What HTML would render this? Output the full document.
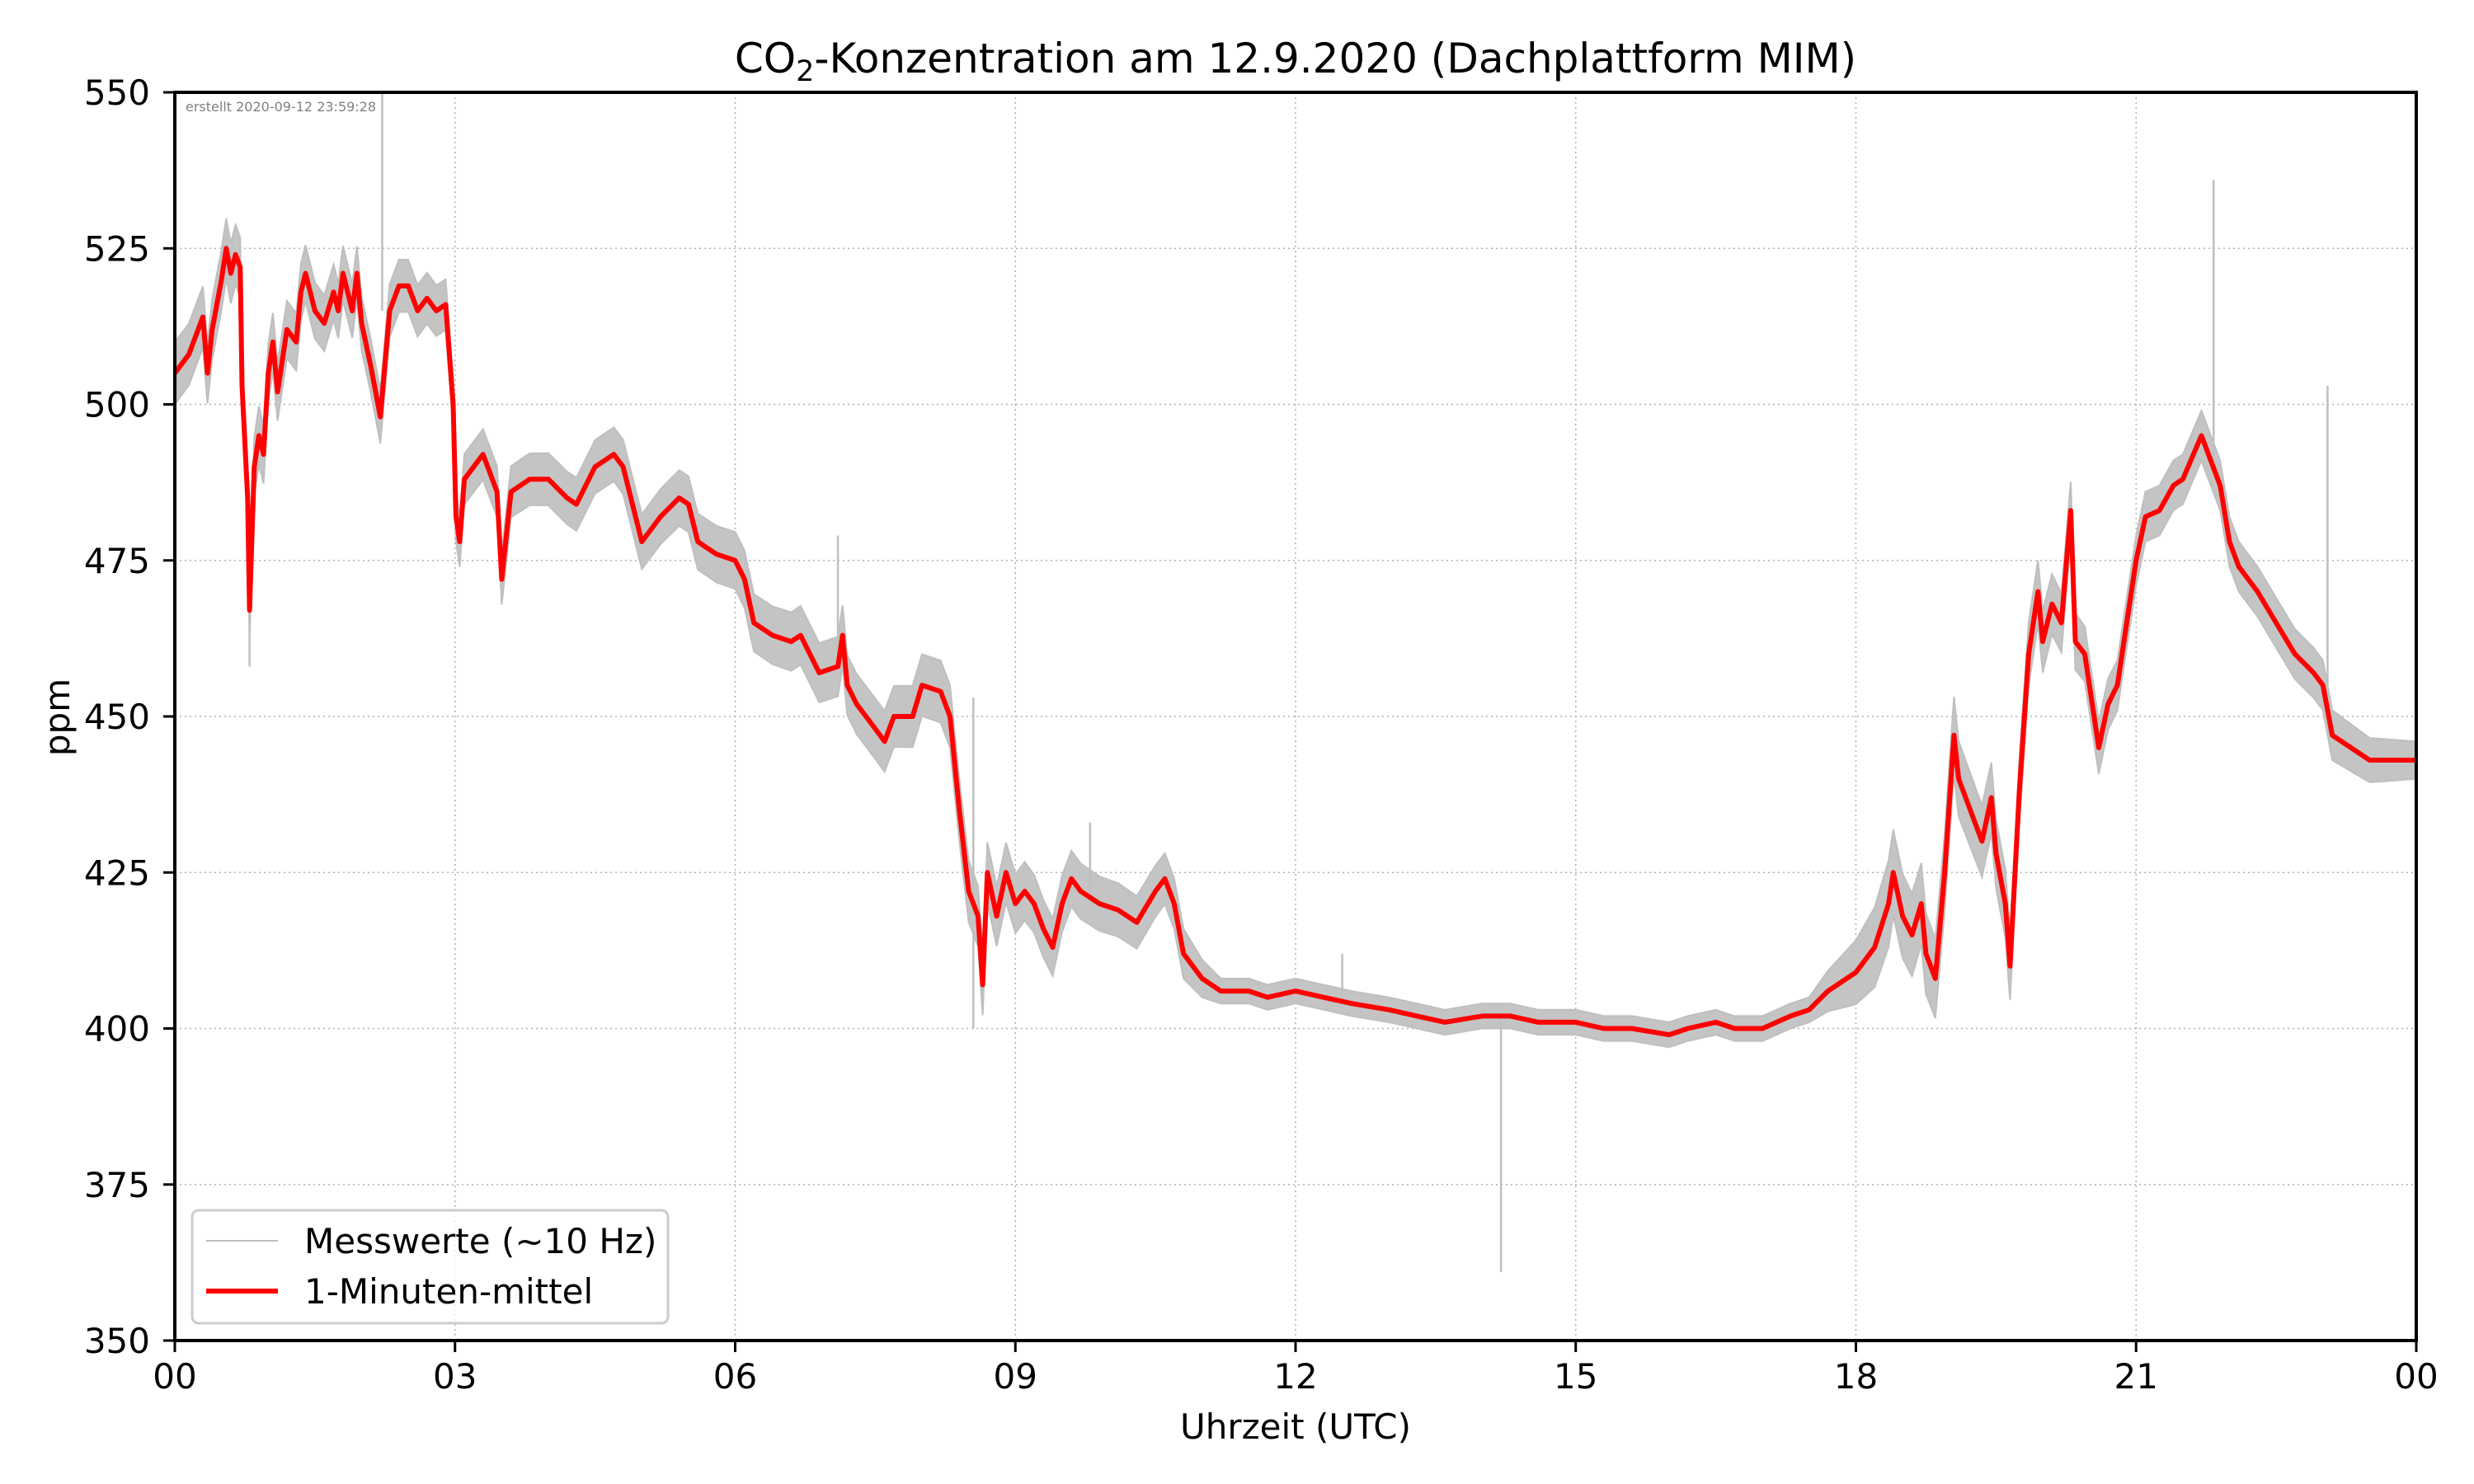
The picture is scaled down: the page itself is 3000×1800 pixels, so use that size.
<!DOCTYPE html>
<html><head><meta charset="utf-8"><style>
html,body{margin:0;padding:0;background:#fff}
svg{display:block;font-family:"DejaVu Sans","Liberation Sans",sans-serif}
</style></head><body>
<svg id="chart" width="3000" height="1800" viewBox="0 0 3000 1800" xmlns="http://www.w3.org/2000/svg">
<rect width="3000" height="1800" fill="#fff"/>
<g id="grid"></g>
<g id="grey"></g>
<g id="red"></g>
<rect x="212" y="112" width="2718" height="1514" fill="none" stroke="#000" stroke-width="4"/>
<g id="ticks"></g>
<text x="225" y="135" font-size="16" fill="#808080">erstellt 2020-09-12 23:59:28</text>
<text x="1571" y="88" font-size="50" text-anchor="middle">CO<tspan font-size="35" dy="10">2</tspan><tspan dy="-10">-Konzentration am 12.9.2020 (Dachplattform MIM)</tspan></text>
<text x="1571" y="1745" font-size="42" text-anchor="middle">Uhrzeit (UTC)</text>
<text transform="translate(84,870) rotate(-90)" font-size="42" text-anchor="middle">ppm</text>
<g>
<rect x="233" y="1468" width="577" height="137" rx="8" fill="#fff" fill-opacity="0.8" stroke="#ccc" stroke-width="3"/>
<line x1="250" y1="1505" x2="337" y2="1505" stroke="#bfbfbf" stroke-width="2"/>
<text x="369" y="1520" font-size="42">Messwerte (~10 Hz)</text>
<line x1="250" y1="1566" x2="337" y2="1566" stroke="#f00" stroke-width="6"/>
<text x="369" y="1581" font-size="42">1-Minuten-mittel</text>
</g>
</svg>
<script>
const times=[0,0.15,0.25,0.3,0.35,0.4,0.5,0.55,0.6,0.65,0.7,0.72,0.78,0.8,0.85,0.9,0.95,1.0,1.05,1.1,1.2,1.3,1.35,1.4,1.5,1.6,1.7,1.75,1.8,1.9,1.95,2.0,2.1,2.2,2.3,2.4,2.5,2.6,2.7,2.8,2.9,2.98,3.01,3.05,3.1,3.2,3.3,3.45,3.5,3.6,3.8,4.0,4.2,4.3,4.5,4.7,4.8,4.9,5.0,5.2,5.4,5.5,5.6,5.7,5.8,6.0,6.1,6.2,6.4,6.6,6.7,6.8,6.9,7.1,7.15,7.2,7.3,7.4,7.5,7.6,7.7,7.9,8.0,8.2,8.3,8.4,8.5,8.6,8.65,8.7,8.8,8.9,9.0,9.1,9.2,9.3,9.4,9.5,9.6,9.7,9.9,10.1,10.3,10.5,10.6,10.7,10.8,10.9,11.0,11.2,11.5,11.7,12.0,12.3,12.6,13.0,13.3,13.6,14.0,14.3,14.6,15.0,15.3,15.6,16.0,16.2,16.5,16.7,17.0,17.3,17.5,17.7,18.0,18.2,18.35,18.4,18.5,18.6,18.7,18.75,18.85,18.95,19.05,19.1,19.2,19.3,19.35,19.45,19.5,19.6,19.65,19.75,19.85,19.95,20.0,20.1,20.2,20.3,20.35,20.45,20.6,20.7,20.8,20.9,21.0,21.1,21.25,21.4,21.5,21.7,21.9,22.0,22.1,22.3,22.5,22.7,22.9,23.0,23.1,23.3,23.5,23.7,24];
const meanPpm=[505,508,512,514,505,512,520,525,521,524,522,503,485,467,490,495,492,505,510,502,512,510,518,521,515,513,518,515,521,515,521,513,506,498,515,519,519,515,517,515,516,500,482,478,488,490,492,486,472,486,488,488,485,484,490,492,490,484,478,482,485,484,478,477,476,475,472,465,463,462,463,460,457,458,463,455,452,450,448,446,450,450,455,454,450,435,422,418,407,425,418,425,420,422,420,416,413,420,424,422,420,419,417,422,424,420,412,410,408,406,406,405,406,405,404,403,402,401,402,402,401,401,400,400,399,400,401,400,400,402,403,406,409,413,420,425,418,415,420,412,408,425,447,440,436,432,430,437,428,420,410,438,460,470,462,468,465,483,462,460,445,452,455,465,475,482,483,487,488,495,487,478,474,470,465,460,457,455,447,445,443,443,443];
const spreadTimes=[0,3,8.3,10.8,11.2,17.5,18.3,20.8,23.1,24];
const spreadPpm=[5,4,5,4,2,2,7,4,4,3];
const spikeTimes=[0.8,2.22,8.55,8.55,14.2,21.83,23.05,7.1,9.8,12.5];
const spikeFrom=[470,515,415,420,402,490,455,458,420,405];
const spikeTo=[458,550,400,453,361,536,503,479,433,412];
const xTicks=[0,3,6,9,12,15,18,21,24];
const xTickLabels=["00","03","06","09","12","15","18","21","00"];
const yTicks=[350,375,400,425,450,475,500,525,550];

const NS="http://www.w3.org/2000/svg";
const X=t=>212+t/24*2718;
const Y=v=>1626-(v-350)/200*1514;
function mk(tag,attrs,parent){const e=document.createElementNS(NS,tag);for(const k in attrs)e.setAttribute(k,attrs[k]);parent.appendChild(e);return e;}
function spreadAt(t){for(let i=1;i<spreadTimes.length;i++){if(t<=spreadTimes[i]){const f=(t-spreadTimes[i-1])/(spreadTimes[i]-spreadTimes[i-1]);return spreadPpm[i-1]+f*(spreadPpm[i]-spreadPpm[i-1]);}}return spreadPpm[spreadPpm.length-1];}

const grid=document.getElementById('grid'),ticks=document.getElementById('ticks');
xTicks.forEach((t,i)=>{
 const gl=mk('line',{x1:X(t),x2:X(t),y1:112,y2:1626,stroke:'#b0b0b0','stroke-width':1.5,'stroke-dasharray':'2,4'},grid);
 
 
 const tk=mk('line',{x1:X(t),x2:X(t),y1:1626,y2:1640,stroke:'#000','stroke-width':3},ticks);
 
 
 const tl=mk('text',{x:X(t),y:1684,'font-size':42,'text-anchor':'middle'},ticks);
 tl.textContent=xTickLabels[i];
 
 
});
yTicks.forEach(v=>{
 const gl=mk('line',{x1:212,x2:2930,y1:Y(v),y2:Y(v),stroke:'#b0b0b0','stroke-width':1.5,'stroke-dasharray':'2,4'},grid);
 
 
 const tk=mk('line',{x1:198,x2:212,y1:Y(v),y2:Y(v),stroke:'#000','stroke-width':3},ticks);
 
 
 const tl=mk('text',{x:182,y:Y(v)+15,'font-size':42,'text-anchor':'end'},ticks);
 tl.textContent=v;
 
 
});

const grey=document.getElementById('grey');
let up='',lo='';
times.forEach((t,i)=>{const s=spreadAt(t);up+=(i?'L':'M')+X(t).toFixed(1)+','+Y(meanPpm[i]+s).toFixed(1);});
for(let i=times.length-1;i>=0;i--){const s=spreadAt(times[i]);lo+='L'+X(times[i]).toFixed(1)+','+Y(meanPpm[i]-s).toFixed(1);}
const band=mk('path',{d:up+lo+'Z',fill:'#c4c4c4',stroke:'#bfbfbf','stroke-width':2},grey);


spikeTimes.forEach((t,i)=>{
 const sp=mk('line',{x1:X(t),x2:X(t),y1:Y(spikeFrom[i]),y2:Y(spikeTo[i]),stroke:'#bfbfbf','stroke-width':2.5},grey);
 
 
});

const red=document.getElementById('red');
const d=times.map((t,i)=>(i?'L':'M')+X(t).toFixed(1)+','+Y(meanPpm[i]).toFixed(1)).join('');
const rl=mk('path',{d:d,fill:'none',stroke:'#f00','stroke-width':6,'stroke-linejoin':'round'},red);


</script>
</body></html>
